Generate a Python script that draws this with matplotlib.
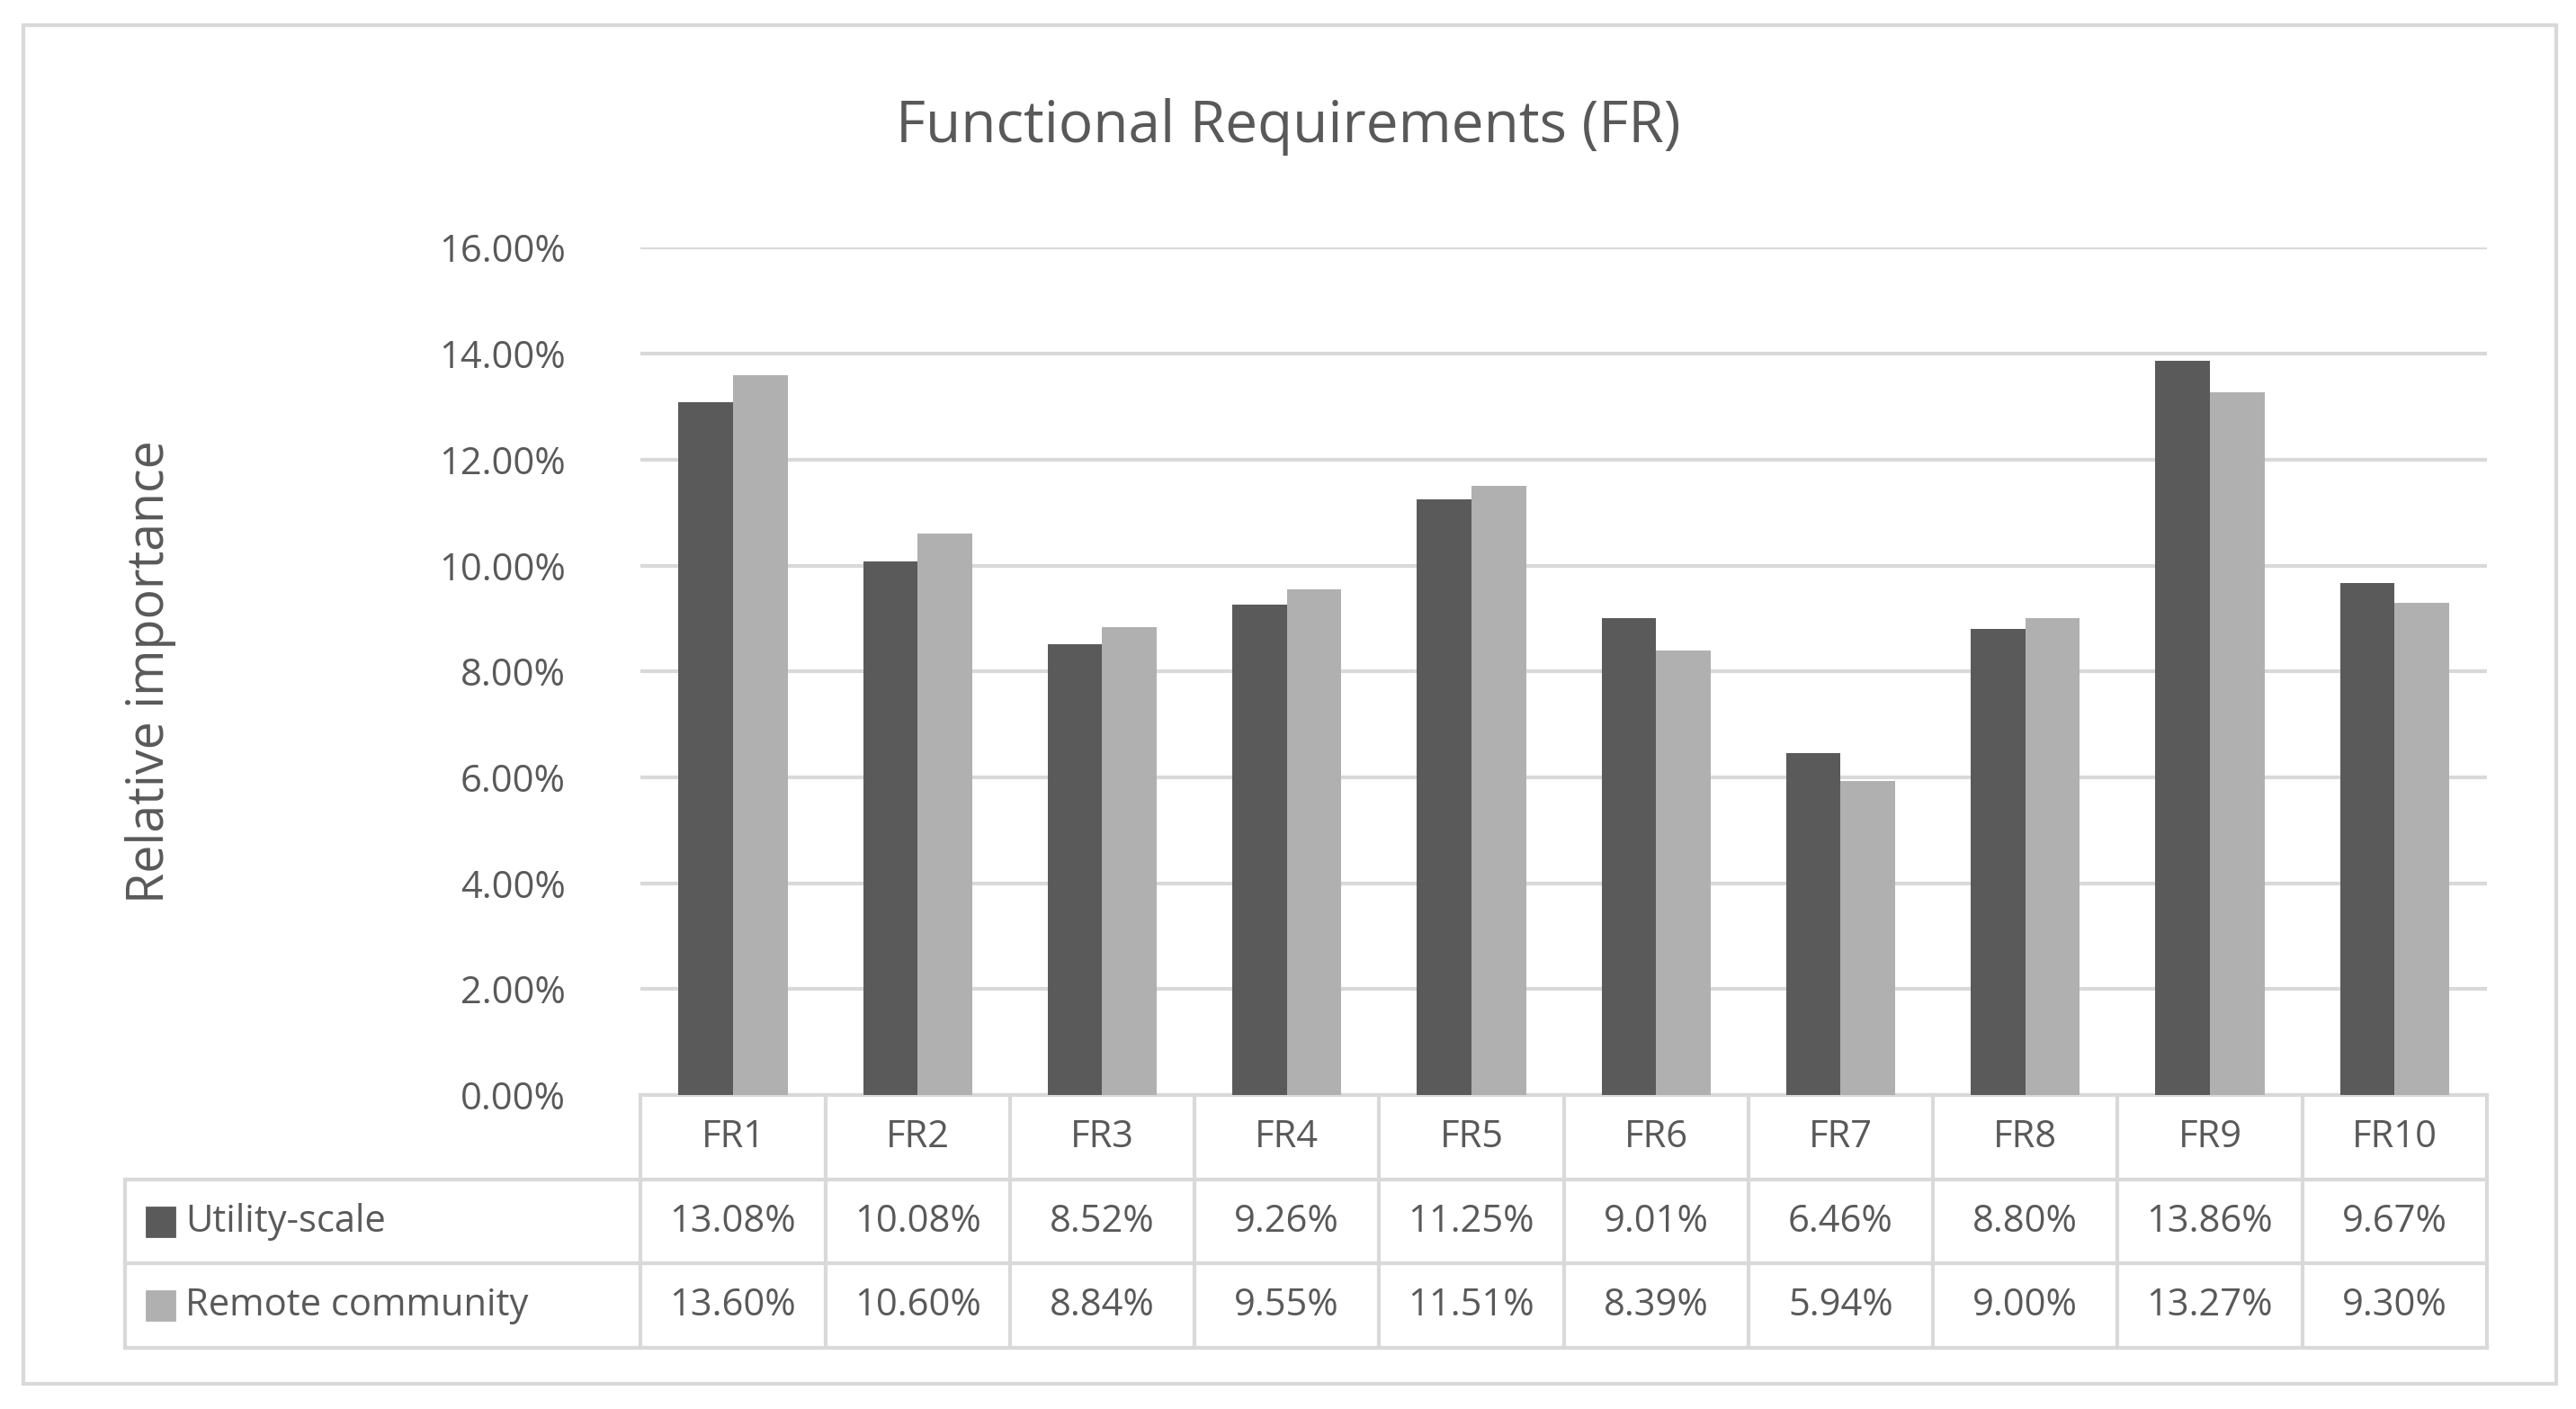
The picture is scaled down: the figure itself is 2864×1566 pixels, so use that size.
import matplotlib
matplotlib.use("Agg")
import matplotlib.pyplot as plt
from matplotlib.patches import Rectangle
import numpy as np

categories = ["FR1","FR2","FR3","FR4","FR5","FR6","FR7","FR8","FR9","FR10"]
utility = [13.08,10.08,8.52,9.26,11.25,9.01,6.46,8.80,13.86,9.67]
remote = [13.60,10.60,8.84,9.55,11.51,8.39,5.94,9.00,13.27,9.30]
series_names = ["Utility-scale","Remote community"]
colors = ["#5a5a5a","#b0b0b0"]
tc = "#595959"
lc = "#d9d9d9"

W,H = 1560,853
fig = plt.figure(figsize=(14.32,7.83), dpi=200)
plt.rcParams['font.family'] = ['Open Sans','DejaVu Sans']
fig.patches.append(Rectangle((14/W,1-838/H),(1548-14)/W,(838-15)/H,transform=fig.transFigure,fill=False,ec=lc,lw=1.5))
ax = fig.add_axes([388/W,1-663/H,(1506-388)/W,(663-150)/H])
x = np.arange(len(categories))
bw = 0.295
ax.bar(x-bw/2,utility,bw,color=colors[0],zorder=3)
ax.bar(x+bw/2,remote,bw,color=colors[1],zorder=3)
ax.set_xlim(-0.5,len(categories)-0.5)
ax.set_ylim(0,16)
ax.set_yticks(np.arange(0,17,2))
ax.set_yticklabels([f"{v:.2f}%" for v in np.arange(0,17,2)],fontsize=15,color=tc)
ax.yaxis.grid(True,color=lc,lw=1.5,zorder=0)
ax.tick_params(axis='y',length=0,pad=30)
ax.set_xticks([])
for s in ax.spines.values(): s.set_visible(False)
ax.set_ylabel("Relative importance",fontsize=20,color=tc,labelpad=105)
fig.text(0.5,1-77/H,"Functional Requirements (FR)",fontsize=23,color=tc,ha='center',va='center')

# table
rh = 51/513
tr = ax.get_xaxis_transform()
left_x = -0.5 - (388-75)/112
def hline(y,x0):
    ax.plot([x0,len(categories)-0.5],[y,y],transform=tr,color=lc,lw=1.5,clip_on=False)
hline(0,-0.5); hline(-rh,left_x); hline(-2*rh,left_x); hline(-3*rh,left_x)
for i in range(len(categories)+1):
    ax.plot([i-0.5,i-0.5],[0,-3*rh],transform=tr,color=lc,lw=1.5,clip_on=False)
ax.plot([left_x,left_x],[-rh,-3*rh],transform=tr,color=lc,lw=1.5,clip_on=False)
for i,c in enumerate(categories):
    ax.text(i,-0.5*rh,c,transform=tr,ha='center',va='center',fontsize=15,color=tc)
    ax.text(i,-1.5*rh,f"{utility[i]:.2f}%",transform=tr,ha='center',va='center',fontsize=15,color=tc)
    ax.text(i,-2.5*rh,f"{remote[i]:.2f}%",transform=tr,ha='center',va='center',fontsize=15,color=tc)
for r,(n,col) in enumerate(zip(series_names,colors)):
    y = -(1.5+r)*rh
    ax.add_patch(Rectangle((left_x+0.12,y-0.017),0.15,0.034,transform=tr,color=col,clip_on=False))
    ax.text(left_x+0.33,y,n,transform=tr,ha='left',va='center',fontsize=15,color=tc)
fig.savefig("out.png",dpi=200,facecolor='white')
